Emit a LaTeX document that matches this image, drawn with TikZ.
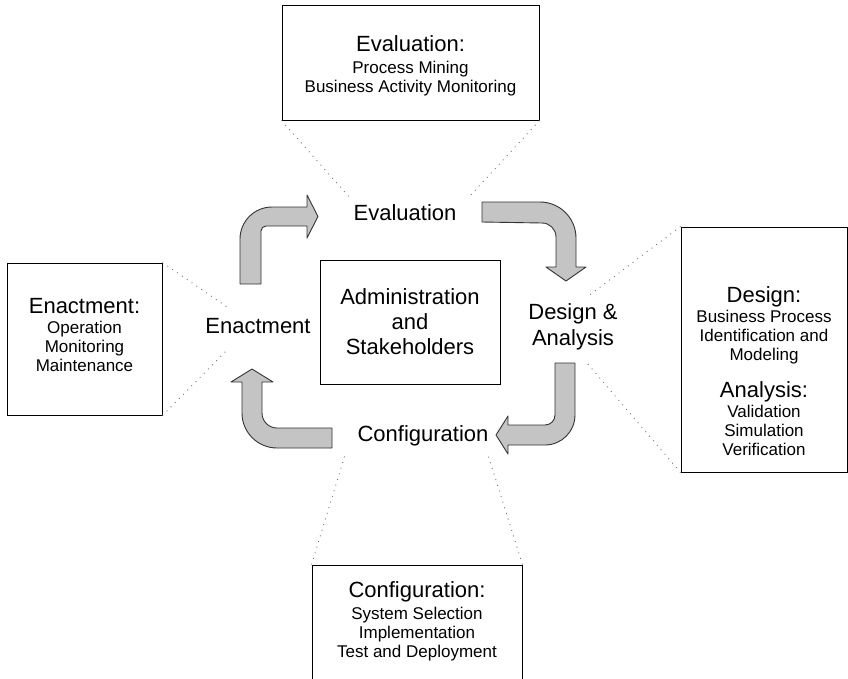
\documentclass[tikz,border=0pt]{standalone}
\usepackage{fontspec}
\setmainfont{Liberation Sans}
\definecolor{arrowgray}{HTML}{C4C4C4}
\definecolor{arrowline}{HTML}{333333}
\definecolor{dotgray}{HTML}{707070}
\begin{document}
\begin{tikzpicture}[x=1pt,y=-1pt,
  box/.style={draw=black, line width=1pt, fill=white, inner sep=0pt},
  blk/.style={fill=arrowgray, draw=arrowline, line width=0.9pt, line join=round},
  dots/.style={draw=dotgray, line width=0.9pt, dash pattern=on 0.9pt off 5pt},
  bigtxt/.style={font=\fontsize{22}{26}\selectfont, align=center, inner sep=0pt},
  smalltxt/.style={font=\fontsize{17}{19}\selectfont, align=center, inner sep=0pt}]
\useasboundingbox (0,0) rectangle (848,678);

% boxes
\node[box, minimum width=257pt, minimum height=115pt] (evalbox) at (410.5,62.5) {};
\node[box, minimum width=155pt, minimum height=152pt] (enactbox) at (84.5,339) {};
\node[box, minimum width=166pt, minimum height=245pt] (designbox) at (764,349.5) {};
\node[box, minimum width=210pt, minimum height=125pt] (configbox) at (417,627.5) {};
\node[box, minimum width=180pt, minimum height=124pt, bigtxt, font=\fontsize{22}{25}\selectfont] (centerbox) at (410,322)
  {Administration\\and\\Stakeholders};

% box texts
\node[smalltxt] (evaltxt) at (410.5,66)
  {{\fontsize{22}{26}\selectfont Evaluation:}\\[3pt]Process Mining\\Business Activity Monitoring};
\node[smalltxt] (enacttxt) at (84.5,335)
  {{\fontsize{22}{26}\selectfont Enactment:}\\[1pt]Operation\\Monitoring\\Maintenance};
\node[smalltxt] (designtxt) at (764,371)
  {{\fontsize{22}{26}\selectfont Design:}\\[1pt]Business Process\\Identification and\\Modeling\\[17pt]
   {\fontsize{22}{26}\selectfont Analysis:}\\[1pt]Validation\\Simulation\\Verification};
\node[smalltxt] (configtxt) at (417,621)
  {{\fontsize{22}{26}\selectfont Configuration:}\\[3pt]System Selection\\Implementation\\Test and Deployment};

% cycle labels
\node[bigtxt] (evallbl) at (405,213) {Evaluation};
\node[bigtxt] (enactlbl) at (258,326) {Enactment};
\node[bigtxt] (designlbl) at (573,327) {Design \&\\Analysis};
\node[bigtxt] (configlbl) at (423,436) {Configuration};

% block arrows
\draw[blk] (240,284) -- (240,239) arc[start angle=180, end angle=270, radius=32]
  -- (307,207) -- (307,195) -- (318,216.5) -- (307,238) -- (307,226) -- (266,226)
  arc[start angle=270, end angle=180, radius=5] -- (261,284) -- cycle;
\draw[blk] (482,202) -- (540,202) arc[start angle=270, end angle=360, radius=36]
  -- (576,267) -- (586,267) -- (566,281) -- (546,267) -- (556,267) -- (556,237)
  arc[start angle=0, end angle=-90, radius=14] -- (482,222) -- cycle;
\draw[blk] (555,363) -- (575,363) -- (575,415) arc[start angle=0, end angle=90, radius=30]
  -- (508,445) -- (508,454) -- (496,435) -- (508,416) -- (508,425) -- (545,425)
  arc[start angle=90, end angle=0, radius=10] -- cycle;
\draw[blk] (332,428) -- (332,448) -- (277,448) arc[start angle=90, end angle=180, radius=35]
  -- (242,382) -- (231,382) -- (252,369) -- (273,382) -- (262,382) -- (262,413)
  arc[start angle=180, end angle=90, radius=15] -- cycle;

% dotted connectors
\coordinate (e1) at (350,198);
\coordinate (e2) at (468,198);
\coordinate (n1) at (227,307);
\coordinate (n2) at (227,350);
\coordinate (d1) at (587,297);
\coordinate (d2) at (587,363);
\coordinate (c1) at (345,455);
\coordinate (c2) at (488,455);
\draw[dots] (evalbox.south west) -- (e1);
\draw[dots] (evalbox.south east) -- (e2);
\draw[dots] (enactbox.north east) -- (n1);
\draw[dots] (enactbox.south east) -- (n2);
\draw[dots] (designbox.north west) -- (d1);
\draw[dots] (designbox.south west) -- (d2);
\draw[dots] (configbox.north west) -- (c1);
\draw[dots] (configbox.north east) -- (c2);
\end{tikzpicture}
\end{document}
